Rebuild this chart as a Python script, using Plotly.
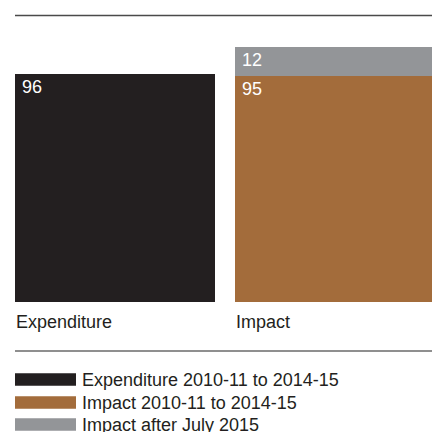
import plotly.graph_objects as go

# Data (£bn)
categories = ["Expenditure", "Impact"]
expenditure_2010_15 = [96, None]
impact_2010_15 = [None, 95]
impact_after_2015 = [None, 12]

series_names = [
    "Expenditure 2010-11 to 2014-15",
    "Impact 2010-11 to 2014-15",
    "Impact after July 2015",
]
colors = ["#231F20", "#A36C3B", "#939598"]

FONT = "Liberation Sans, Arial, Helvetica, sans-serif"
TEXT_COLOR = "#231F20"

W, H = 432, 432
ML, MR, MT, MB = 15, 0, 16, 130
PLOT_W = W - ML - MR
PLOT_H = H - MT - MB
PLOT_BOTTOM = H - MB

BAR_WIDTH = 200 / 220
Y_MAX = PLOT_H / 2.38


def py(y_px):
    """Pixel row -> paper y."""
    return (PLOT_BOTTOM - y_px) / PLOT_H


def px(x_px):
    """Pixel column -> paper x."""
    return (x_px - ML) / PLOT_W


xs = list(range(len(categories)))

fig = go.Figure()
for name, vals, col in zip(series_names,
                           [expenditure_2010_15, impact_2010_15, impact_after_2015],
                           colors):
    fig.add_trace(go.Bar(
        x=xs, y=vals, name=name, marker=dict(color=col, line=dict(width=0)),
        width=BAR_WIDTH, showlegend=False, hoverinfo="skip",
    ))

annotations = []
shapes = []

# value labels at top-left inside each segment
for i in xs:
    base = 0
    for vals in [expenditure_2010_15, impact_2010_15, impact_after_2015]:
        v = vals[i]
        if v is None:
            continue
        top = base + v
        annotations.append(dict(
            x=i - BAR_WIDTH / 2, y=top, xref="x", yref="y",
            text=str(v), showarrow=False, xanchor="left", yanchor="middle",
            xshift=5, yshift=-13,
            font=dict(family=FONT, size=18, color="white"),
        ))
        base = top

# category labels, left aligned under each bar
for i, cat in zip(xs, categories):
    annotations.append(dict(
        x=i - BAR_WIDTH / 2, y=py(322), xref="x", yref="paper",
        text=cat, showarrow=False, xanchor="left", yanchor="middle",
        xshift=-1,
        font=dict(family=FONT, size=18, color=TEXT_COLOR),
    ))

# rules above the chart and above the key
shapes.append(dict(type="line", xref="paper", yref="paper",
                   x0=px(15), x1=px(432), y0=py(15.5), y1=py(15.5),
                   line=dict(color="#4a4a4a", width=1.5)))
shapes.append(dict(type="line", xref="paper", yref="paper",
                   x0=px(15), x1=px(432), y0=py(351), y1=py(351),
                   line=dict(color="#6a6a6a", width=1.5)))

# key
row_centres = [379.5, 402.5, 424.5]
for name, col, yc in zip(series_names, colors, row_centres):
    shapes.append(dict(type="rect", xref="paper", yref="paper",
                       x0=px(15), x1=px(76), y0=py(yc - 6.3), y1=py(yc + 6.3),
                       fillcolor=col, line=dict(width=0)))
    annotations.append(dict(
        x=px(80), y=py(yc), xref="paper", yref="paper",
        text=name, showarrow=False, xanchor="left", yanchor="middle",
        font=dict(family=FONT, size=18, color=TEXT_COLOR),
    ))

fig.update_layout(
    width=W, height=H,
    margin=dict(l=ML, r=MR, t=MT, b=MB, pad=0),
    paper_bgcolor="white", plot_bgcolor="white",
    barmode="stack", bargap=0,
    showlegend=False,
    xaxis=dict(range=[-BAR_WIDTH / 2, -BAR_WIDTH / 2 + PLOT_W / 220],
               visible=False, fixedrange=True),
    yaxis=dict(range=[0, Y_MAX], visible=False, fixedrange=True),
    annotations=annotations,
    shapes=shapes,
)

fig.write_html("out.html", config={"displayModeBar": False})
